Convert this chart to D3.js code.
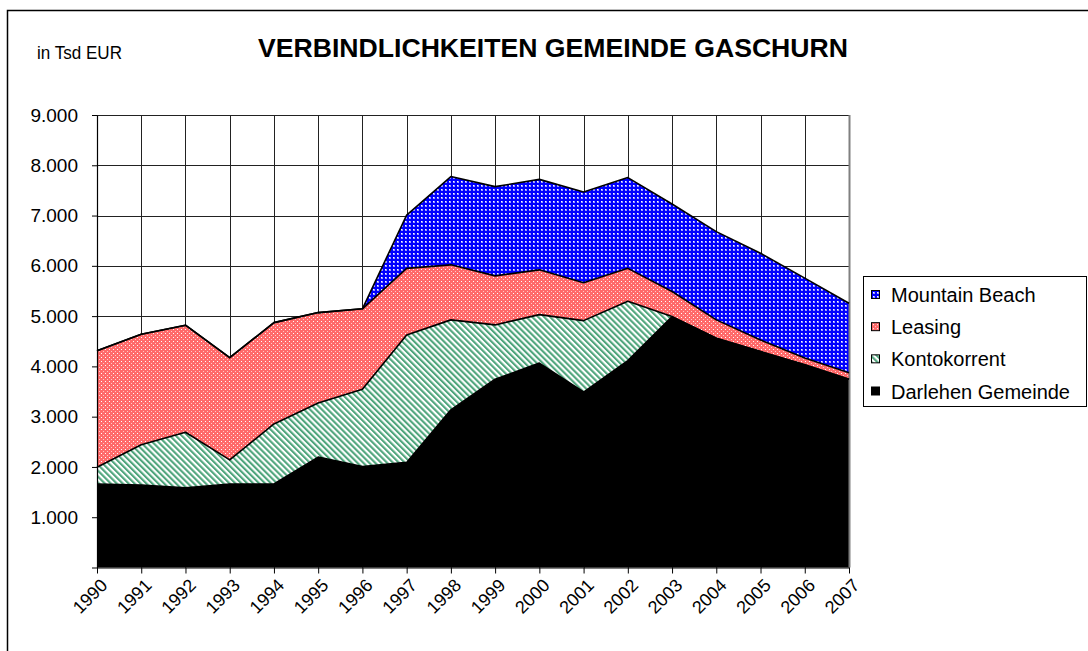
<!DOCTYPE html>
<html>
<head>
<meta charset="utf-8">
<script src="https://cdn.jsdelivr.net/npm/d3@7"></script>
<style>
  body { margin: 0; background: #fff; }
  svg { display: block; font-family: "Liberation Sans", Arial, sans-serif; }
</style>
</head>
<body>
<div id="chart"></div>
<script>
/*
------------------------------
DATA: values in Tsd EUR
------------------------------
*/
const years = [1990, 1991, 1992, 1993, 1994, 1995, 1996, 1997, 1998, 1999,
               2000, 2001, 2002, 2003, 2004, 2005, 2006, 2007];
const darlehenGemeinde = [1660, 1640, 1585, 1660, 1660, 2195, 2010, 2090, 3135, 3745,
                          4065, 3490, 4115, 4990, 4560, 4295, 4030, 3745];
const kontokorrent = [335, 800, 1105, 480, 1195, 1075, 1535, 2535, 1790, 1080,
                      965, 1420, 1180, 0, 0, 0, 0, 0];
const leasing = [2315, 2200, 2130, 2035, 2015, 1800, 1600, 1325, 1095, 975,
                 890, 755, 655, 500, 365, 230, 135, 130];
const mountainBeach = [0, 0, 0, 0, 0, 0, 0, 1060, 1755, 1775,
                       1800, 1805, 1805, 1740, 1755, 1725, 1590, 1380];
const seriesNames = ["Darlehen Gemeinde", "Kontokorrent", "Leasing", "Mountain Beach"];
const yTicks = [0, 1000, 2000, 3000, 4000, 5000, 6000, 7000, 8000, 9000];

const width = 1088, height = 651;
const plot = { left: 97, right: 849, top: 115, bottom: 567.5 };

const svg = d3.select("#chart").append("svg")
    .attr("width", width)
    .attr("height", height);

// patterns for the fills
const defs = svg.append("defs");

const pBlue = defs.append("pattern").attr("id", "pat-mb")
    .attr("patternUnits", "userSpaceOnUse").attr("width", 4).attr("height", 4);
pBlue.append("rect").attr("width", 4).attr("height", 4).attr("fill", "#0000ff");
pBlue.append("rect").attr("x", 1).attr("y", 1).attr("width", 2).attr("height", 2).attr("fill", "#9a9aff");
pBlue.append("rect").attr("x", 1).attr("y", 1).attr("width", 1).attr("height", 1).attr("fill", "#ffffff");

const pRed = defs.append("pattern").attr("id", "pat-leasing")
    .attr("patternUnits", "userSpaceOnUse").attr("width", 4).attr("height", 4);
pRed.append("rect").attr("width", 4).attr("height", 4).attr("fill", "#ff6a6a");
pRed.append("rect").attr("x", 1).attr("y", 1).attr("width", 1).attr("height", 1).attr("fill", "#ffffff");
pRed.append("rect").attr("x", 3).attr("y", 3).attr("width", 1).attr("height", 1).attr("fill", "#ffc8c8");

const pGreen = defs.append("pattern").attr("id", "pat-konto")
    .attr("patternUnits", "userSpaceOnUse").attr("width", 4.2).attr("height", 4.2)
    .attr("patternTransform", "rotate(-45)");
pGreen.append("rect").attr("width", 4.2).attr("height", 4.2).attr("fill", "#ffffff");
pGreen.append("rect").attr("width", 2.1).attr("height", 4.2).attr("fill", "#4fa57c");

const fills = {
    "Darlehen Gemeinde": "#000000",
    "Kontokorrent": "url(#pat-konto)",
    "Leasing": "url(#pat-leasing)",
    "Mountain Beach": "url(#pat-mb)"
};

// outer chart frame
svg.append("rect")
    .attr("x", 7.5).attr("y", 10.5)
    .attr("width", 1100).attr("height", 700)
    .attr("fill", "none").attr("stroke", "#000").attr("stroke-width", 1.5);

// title
svg.append("text")
    .attr("x", 553).attr("y", 57)
    .attr("text-anchor", "middle")
    .attr("font-size", 25).attr("font-weight", "bold")
    .attr("textLength", 590).attr("lengthAdjust", "spacingAndGlyphs")
    .text("VERBINDLICHKEITEN GEMEINDE GASCHURN");

svg.append("text")
    .attr("x", 37).attr("y", 59)
    .attr("font-size", 18)
    .attr("textLength", 85).attr("lengthAdjust", "spacingAndGlyphs")
    .text("in Tsd EUR");

// scales
const x = d3.scalePoint().domain(years).range([plot.left, plot.right]);
const y = d3.scaleLinear().domain([0, 9000]).range([plot.bottom, plot.top]);

// table for the stack
const table = years.map((yr, i) => ({
    year: yr,
    "Darlehen Gemeinde": darlehenGemeinde[i],
    "Kontokorrent": kontokorrent[i],
    "Leasing": leasing[i],
    "Mountain Beach": mountainBeach[i]
}));
const stacked = d3.stack().keys(seriesNames)(table);

// plot background + grid
svg.append("rect")
    .attr("x", plot.left).attr("y", plot.top)
    .attr("width", plot.right - plot.left).attr("height", plot.bottom - plot.top)
    .attr("fill", "#fff");

svg.append("g").selectAll("line")
    .data(yTicks.slice(1))
    .join("line")
    .attr("x1", plot.left).attr("x2", plot.right)
    .attr("y1", d => Math.round(y(d)) + 0.5).attr("y2", d => Math.round(y(d)) + 0.5)
    .attr("stroke", "#222").attr("stroke-width", 1);

svg.append("g").selectAll("line")
    .data(years.slice(1, -1))
    .join("line")
    .attr("x1", d => Math.round(x(d)) + 0.5).attr("x2", d => Math.round(x(d)) + 0.5)
    .attr("y1", plot.top).attr("y2", plot.bottom)
    .attr("stroke", "#222").attr("stroke-width", 1);

// areas
const area = d3.area()
    .x(d => x(d.data.year))
    .y0(d => y(d[0]))
    .y1(d => y(d[1]));

svg.append("g").selectAll("path")
    .data(stacked)
    .join("path")
    .attr("d", area)
    .attr("fill", d => fills[d.key]);

// plot border right side (grey)
svg.append("line")
    .attr("x1", plot.right + 0.5).attr("x2", plot.right + 0.5)
    .attr("y1", plot.top).attr("y2", plot.bottom)
    .attr("stroke", "#808080").attr("stroke-width", 2);

// top edges of the areas
const topLine = d3.line()
    .x(d => x(d.data.year))
    .y(d => y(d[1]));

svg.append("g").selectAll("path")
    .data(stacked)
    .join("path")
    .attr("d", topLine)
    .attr("fill", "none")
    .attr("stroke", "#000")
    .attr("stroke-width", 1.6)
    .attr("stroke-linejoin", "round");

// axes
const fmt = d => d === 0 ? "" : d3.format(",")(d).replace(/,/g, ".");

const yAxis = svg.append("g")
    .attr("transform", `translate(${plot.left},0)`)
    .call(d3.axisLeft(y).tickValues(yTicks).tickFormat(fmt).tickSize(5).tickPadding(14).tickSizeOuter(0));
yAxis.select(".domain").attr("stroke", "#000").attr("stroke-width", 1.2);
yAxis.selectAll("text").attr("font-size", 19).attr("fill", "#000")
    .attr("font-family", "Liberation Sans, Arial, sans-serif");

const xAxis = svg.append("g")
    .attr("transform", `translate(0,${plot.bottom})`)
    .call(d3.axisBottom(x).tickSize(6).tickSizeOuter(0));
xAxis.select(".domain").attr("stroke", "#000").attr("stroke-width", 1.2);
xAxis.selectAll("text")
    .attr("font-size", 18).attr("fill", "#000")
    .attr("font-family", "Liberation Sans, Arial, sans-serif")
    .attr("text-anchor", "end")
    .attr("y", 0).attr("dy", 0)
    .attr("transform", "translate(11,19) rotate(-45)");

// legend
const legend = svg.append("g");
legend.append("rect")
    .attr("x", 863.5).attr("y", 276.5)
    .attr("width", 223).attr("height", 130)
    .attr("fill", "#fff").attr("stroke", "#000").attr("stroke-width", 1);

const legendItems = seriesNames.slice().reverse();
const rowY = d3.scalePoint().domain(legendItems).range([295, 391.5]);

const li = legend.selectAll("g.item")
    .data(legendItems)
    .join("g")
    .attr("class", "item")
    .attr("transform", d => `translate(0,${rowY(d)})`);

li.append("rect")
    .attr("x", 871.5).attr("y", -4.5)
    .attr("width", 8).attr("height", 8)
    .attr("fill", d => fills[d])
    .attr("stroke", "#000").attr("stroke-width", 1);

li.append("text")
    .attr("x", 891).attr("y", 0)
    .attr("dy", "0.35em")
    .attr("font-size", 20)
    .text(d => d);
</script>
</body>
</html>
